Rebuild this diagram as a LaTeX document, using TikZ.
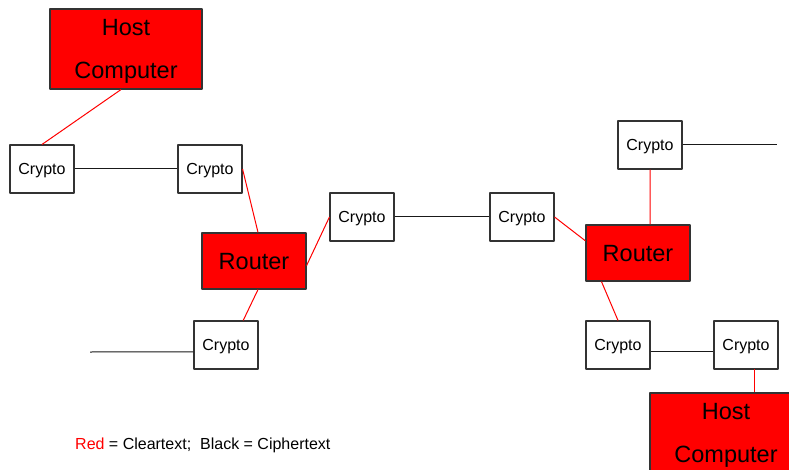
\documentclass[tikz,border=0pt]{standalone}
\usepackage{fontspec}
\setmainfont{Liberation Sans}
\usetikzlibrary{positioning, calc}

\begin{document}
\begin{tikzpicture}[x=1pt, y=-1pt, line join=round,
    box/.style={draw=black!80, line width=1.1pt, inner sep=0pt, text depth=0pt},
    crypto/.style={box, fill=white, minimum width=64pt, minimum height=48pt, font=\fontsize{16}{19}\selectfont},
    router/.style={box, fill=red, minimum width=104pt, minimum height=56pt, font=\fontsize{23.5}{28}\selectfont},
    host/.style={box, fill=red, minimum width=152pt, minimum height=80pt, align=center, font=\fontsize{23.5}{43}\selectfont},
    clear/.style={draw=red, line width=1pt},
    cipher/.style={draw=black!90, line width=1pt}]
      \clip (0,0) rectangle (789,470);
      \node[host] (hosta) at (126,49) {Host\\Computer};
      \node[crypto] (ca) at (42,169) {Crypto};
      \node[crypto] (cb) at (210,169) {Crypto};
      \node[router] (routera) at (254,261) {Router};
      \node[crypto] (cc) at (362,217) {Crypto};
      \node[crypto] (cd) at (226,345) {Crypto};
      \node[crypto] (ce) at (522,217) {Crypto};
      \node[crypto] (cf) at (650,145) {Crypto};
      \node[router] (routerb) at (638,253) {Router};
      \node[crypto] (cg) at (618,345) {Crypto};
      \node[crypto] (ch) at (746,345) {Crypto};
      \node[host] (hostb) at (726,433) {Host\\Computer};
      \coordinate (enda) at (90,352);
      \coordinate (endb) at (777,145);
      \coordinate (chfoot) at (754,369);
      \draw[clear] (hosta.-97) -- (ca.north);
      \draw[cipher] (ca.east) -- (cb.west);
      \draw[clear] (cb.east) -- (routera.82);
      \draw[clear] (routera.-5) -- (cc.west);
      \draw[clear] (routera.-82) -- (cd.55);
      \draw[cipher] (enda) -- (cd.192);
      \draw[cipher] (cc.east) -- (ce.west);
      \draw[clear] (ce.east) -- (routerb.167);
      \draw[clear] (cf.south) -- (routerb.67);
      \draw[cipher] (cf.east) -- (endb);
      \draw[clear] (routerb.-142) -- (cg.north);
      \draw[cipher] (cg.-12) -- (ch.192);
      \draw[clear] (chfoot) -- (chfoot |- hostb.north);
      \node[anchor=west, inner sep=0pt, font=\fontsize{16}{19}\selectfont] (legend) at (75,445)
        {\textcolor{red}{Red} = Cleartext;~ Black = Ciphertext};
    \end{tikzpicture}
\end{document}
